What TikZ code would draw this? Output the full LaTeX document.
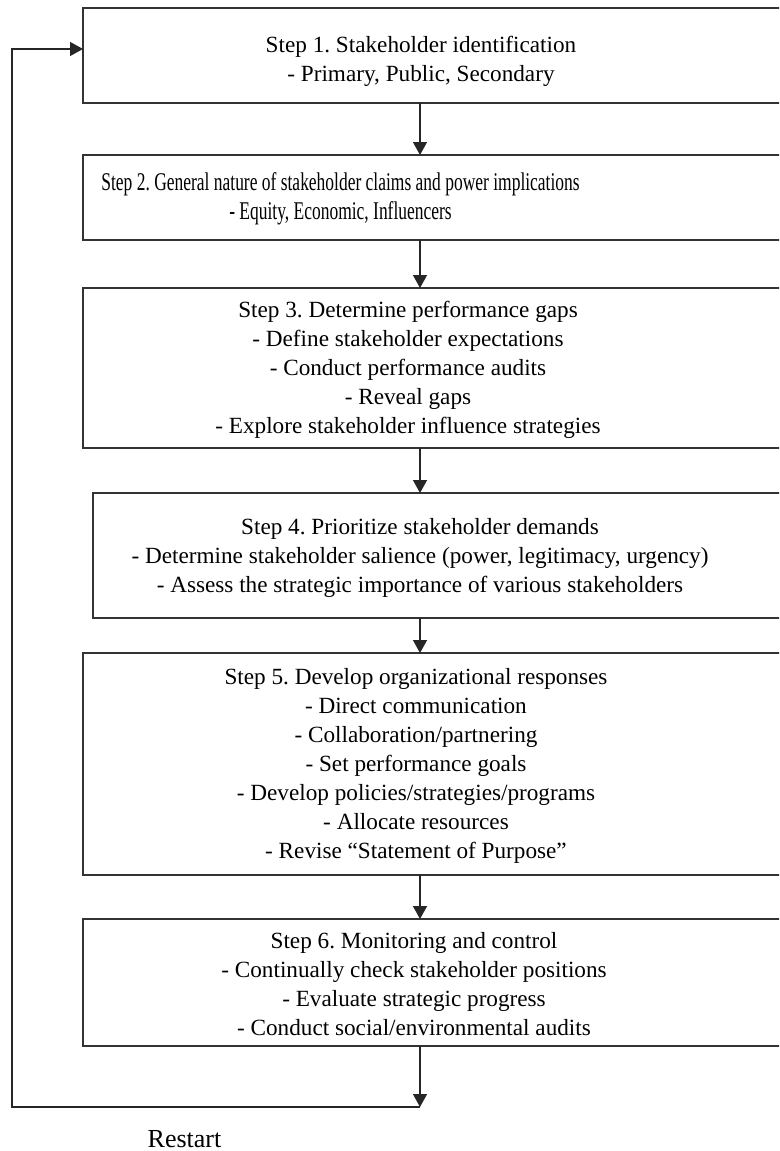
\documentclass[tikz,border=0pt]{standalone}
\usepackage{fontspec}
\setmainfont{Liberation Serif}
\usetikzlibrary{arrows.meta}
\begin{document}
\frenchspacing
\begin{tikzpicture}[x=1pt,y=-1pt,
  box/.style={draw=black!80,line width=1.5pt,rectangle,inner sep=0pt,outer sep=0pt},
  txt/.style={align=center,inner sep=0pt,font=\fontsize{23.2}{29}\selectfont},
  link/.style={draw=black!85,line width=1.4pt},
  arr/.style={link,-{Triangle[length=13pt,width=14pt]}}]
\useasboundingbox (0,0) rectangle (779,1151);
\clip (0,0) rectangle (779,1151);
% boxes (right edges lie beyond the picture)
\node[box,minimum width=740pt,minimum height=95pt]  (b1) at (453,55.5) {};
\node[box,minimum width=740pt,minimum height=85pt]  (b2) at (453,197.5) {};
\node[box,minimum width=740pt,minimum height=160pt] (b3) at (453,368) {};
\node[box,minimum width=720pt,minimum height=125pt] (b4) at (453,555.5) {};
\node[box,minimum width=740pt,minimum height=222pt] (b5) at (453,764) {};
\node[box,minimum width=740pt,minimum height=127pt] (b6) at (453,982.5) {};
% texts
\node[txt] (t1) at (421,61) {Step 1. Stakeholder identification\\- Primary, Public, Secondary};
\node[inner sep=0pt] (t2) at (340.5,199.5) {\scalebox{0.685}[1]{\fontsize{25.5}{29}\selectfont\begin{tabular}{@{}c@{}}Step 2. General nature of stakeholder claims and power implications\\- Equity, Economic, Influencers\end{tabular}}};
\node[txt] (t3) at (408,370) {Step 3. Determine performance gaps\\- Define stakeholder expectations\\- Conduct performance audits\\- Reveal gaps\\- Explore stakeholder influence strategies};
\node[txt] (t4) at (420,557.5) {Step 4. Prioritize stakeholder demands\\- Determine stakeholder salience (power, legitimacy, urgency)\\- Assess the strategic importance of various stakeholders};
\node[txt] (t5) at (416,766) {Step 5. Develop organizational responses\\- Direct communication\\- Collaboration/partnering\\- Set performance goals\\- Develop policies/strategies/programs\\- Allocate resources\\- Revise “Statement of Purpose”};
\node[txt] (t6) at (414,984.5) {Step 6. Monitoring and control\\- Continually check stakeholder positions\\- Evaluate strategic progress\\- Conduct social/environmental audits};
\node[inner sep=0pt,anchor=base,font=\fontsize{26}{29}\selectfont] (restart) at (184.5,1147) {Restart};
% connectors
\coordinate (ax) at (420,0);
\coordinate (loopend) at (420,1107);
\coordinate (corner1) at (12,1107);
\coordinate (corner2) at (12,49);
\draw[arr] (b1.south -| ax) -- (b2.north -| ax);
\draw[arr] (b2.south -| ax) -- (b3.north -| ax);
\draw[arr] (b3.south -| ax) -- (b4.north -| ax);
\draw[arr] (b4.south -| ax) -- (b5.north -| ax);
\draw[arr] (b5.south -| ax) -- (b6.north -| ax);
\draw[arr] (b6.south -| ax) -- (loopend);
\draw[arr] (loopend) -- (corner1) -- (corner2) -- (corner2 -| b1.west);
\end{tikzpicture}
\end{document}
